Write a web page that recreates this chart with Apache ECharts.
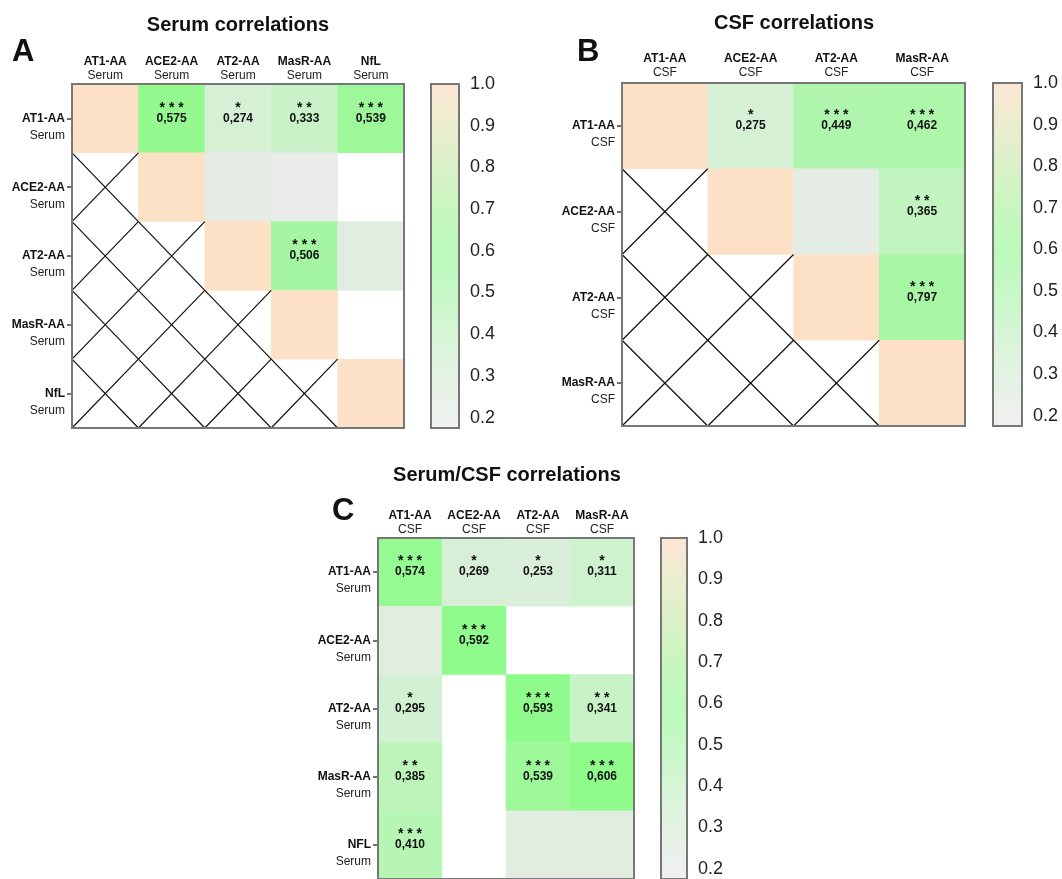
<!DOCTYPE html>
<html>
<head>
<meta charset="utf-8">
<script src="https://cdn.jsdelivr.net/npm/echarts@6/dist/echarts.min.js"></script>
<style>
html, body { margin: 0; padding: 0; background: #fff; }
#main { width: 1062px; height: 879px; }
</style>
</head>
<body>
<div id="main"></div>
<script>
// A - serum correlations
var serumCats = ['AT1-AA', 'ACE2-AA', 'AT2-AA', 'MasR-AA', 'NfL'];
var serumR = [
    [1.0, 0.575, 0.274, 0.333, 0.539],
    [null, 1.0, 0.20, 0.12, null],
    [null, null, 1.0, 0.506, 0.22],
    [null, null, null, 1.0, null],
    [null, null, null, null, 1.0]
];
var serumStars = [
    ['', '***', '*', '**', '***'],
    ['', '', '', '', ''],
    ['', '', '', '***', ''],
    ['', '', '', '', ''],
    ['', '', '', '', '']
];

// B - CSF correlations
var csfCats = ['AT1-AA', 'ACE2-AA', 'AT2-AA', 'MasR-AA'];
var csfR = [
    [1.0, 0.275, 0.449, 0.462],
    [null, 1.0, 0.20, 0.365],
    [null, null, 1.0, 0.797],
    [null, null, null, 1.0]
];
var csfStars = [
    ['', '*', '***', '***'],
    ['', '', '', '**'],
    ['', '', '', '***'],
    ['', '', '', '']
];

// C - serum (rows) vs CSF (columns)
var mixCols = ['AT1-AA', 'ACE2-AA', 'AT2-AA', 'MasR-AA'];
var mixRows = ['AT1-AA', 'ACE2-AA', 'AT2-AA', 'MasR-AA', 'NFL'];
var mixR = [
    [0.574, 0.269, 0.253, 0.311],
    [0.22, 0.592, null, null],
    [0.295, null, 0.593, 0.341],
    [0.385, null, 0.539, 0.606],
    [0.410, null, 0.22, 0.22]
];
var mixStars = [
    ['***', '*', '*', '*'],
    ['', '***', '', ''],
    ['*', '', '***', '**'],
    ['**', '', '***', '***'],
    ['***', '', '', '']
];

// colour scale
var scaleTicks = [0.2, 0.3, 0.4, 0.5, 0.6, 0.7, 0.8, 0.9, 1.0];
var cellColors = ['#ececec', '#e4ece4', '#d1f1d1', '#b9f5b6', '#a7f6a3',
    '#8dfb8a', '#98f995', '#a8f7a4', '#d4eec0', '#fde1c6'];
var barStopValues = [0.175, 0.3, 0.4, 0.5, 0.6, 0.7, 0.8, 0.9, 1.0];
var barStopColors = ['#f0f0f0', '#e3f3e3', '#d6f5d6', '#c6f8c6', '#bafaba',
    '#c8f6c0', '#dbf1c8', '#ebedd0', '#fce6d4'];

var FONT = '"Liberation Sans", Arial, Helvetica, sans-serif';
var barMin = 0.175, barMax = 1.0;

function heatData(m) {
    var out = [];
    for (var r = 0; r < m.length; r++) {
        for (var c = 0; c < m[r].length; c++) {
            if (m[r][c] !== null) out.push([c, r, m[r][c]]);
        }
    }
    return out;
}

function crossCells(n) {
    var out = [];
    for (var r = 0; r < n; r++) {
        for (var c = 0; c < r; c++) out.push([c, r]);
    }
    return out;
}

function cellLabel(stars) {
    return function (p) {
        var s = stars[p.value[1]][p.value[0]];
        if (!s) return '';
        var v = p.value[2].toFixed(3).replace('.', ',');
        return '{s|' + s.split('').join(' ') + '}\n{v|' + v + '}\n{e| }';
    };
}

function renderCross(params, api) {
    var c = api.coord([api.value(0), api.value(1)]);
    var s = api.size([1, 1]);
    var x0 = c[0] - s[0] / 2, x1 = c[0] + s[0] / 2;
    var y0 = c[1] - s[1] / 2, y1 = c[1] + s[1] / 2;
    var st = { stroke: '#111', lineWidth: 1.2 };
    return {
        type: 'group',
        children: [
            { type: 'line', shape: { x1: x0, y1: y0, x2: x1, y2: y1 }, style: st },
            { type: 'line', shape: { x1: x1, y1: y0, x2: x0, y2: y1 }, style: st }
        ]
    };
}

function heatX(grid, cats, sub, margin) {
    return {
        type: 'category', gridIndex: grid, position: 'top', data: cats,
        axisLine: { show: false },
        axisTick: { show: true, inside: true, alignWithLabel: true, length: 6, lineStyle: { color: '#555', width: 1.5 } },
        axisLabel: {
            margin: margin, interval: 0,
            formatter: function (v) { return '{b|' + v + '}\n{n|' + sub + '}'; },
            rich: {
                b: { fontFamily: FONT, fontSize: 12, fontWeight: 'bold', color: '#111', lineHeight: 14 },
                n: { fontFamily: FONT, fontSize: 12, color: '#222', lineHeight: 14 }
            }
        },
        splitLine: { show: false }
    };
}

function heatY(grid, cats, sub) {
    return {
        type: 'category', gridIndex: grid, inverse: true, data: cats,
        axisLine: { show: false },
        axisTick: { show: true, alignWithLabel: true, length: 5, lineStyle: { color: '#444', width: 1.5 } },
        axisLabel: {
            margin: 7, interval: 0,
            formatter: function (v) { return '{e| }\n{b|' + v + '}\n{n|' + sub + '}'; },
            rich: {
                e: { fontSize: 12, lineHeight: 20 },
                b: { fontFamily: FONT, fontSize: 12, fontWeight: 'bold', color: '#111', lineHeight: 14, align: 'right' },
                n: { fontFamily: FONT, fontSize: 12, color: '#222', lineHeight: 20, align: 'right' }
            }
        },
        splitLine: { show: false }
    };
}

function barX(grid) {
    return { type: 'category', gridIndex: grid, data: [''], show: false };
}

function barY(grid, right) {
    return {
        type: 'value', gridIndex: grid, min: barMin, max: barMax,
        position: right ? 'right' : 'left',
        axisLine: { show: false },
        splitLine: { show: false },
        axisTick: { show: true, inside: true, length: 5, customValues: scaleTicks, lineStyle: { color: '#555', width: 1.5 } },
        axisLabel: {
            show: right, margin: 11, customValues: scaleTicks,
            formatter: function (v) { return v.toFixed(1); },
            fontFamily: FONT, fontSize: 18, color: '#222'
        }
    };
}

function barGradient() {
    var stops = [];
    for (var i = 0; i < barStopValues.length; i++) {
        stops.push({ offset: (barStopValues[i] - barMin) / (barMax - barMin), color: barStopColors[i] });
    }
    return new echarts.graphic.LinearGradient(0, 1, 0, 0, stops);
}

function heatSeries(xi, yi, m, stars) {
    return {
        type: 'heatmap', xAxisIndex: xi, yAxisIndex: yi, data: heatData(m),
        label: {
            show: true, color: '#111', formatter: cellLabel(stars),
            rich: {
                s: { fontFamily: FONT, fontSize: 14, fontWeight: 'bold', color: '#111', lineHeight: 7 },
                v: { fontFamily: FONT, fontSize: 12, fontWeight: 'bold', color: '#111', lineHeight: 14 },
                e: { fontSize: 12, lineHeight: 7 }
            }
        },
        emphasis: { disabled: true }
    };
}

function crossSeries(xi, yi, n) {
    return { type: 'custom', xAxisIndex: xi, yAxisIndex: yi, data: crossCells(n), renderItem: renderCross, z: 5, silent: true };
}

function barSeries(xi, yi) {
    return {
        type: 'bar', xAxisIndex: xi, yAxisIndex: yi, data: [barMax], barWidth: '100%',
        itemStyle: { color: barGradient() }, silent: true
    };
}

function txt(x, y, text, size) {
    return {
        type: 'text', x: x, y: y, silent: true,
        style: { text: text, font: 'bold ' + size + 'px ' + FONT, fill: '#111', align: size > 24 ? 'left' : 'center', verticalAlign: 'middle' }
    };
}

var border = { show: true, borderColor: '#777', borderWidth: 2, z: 10, backgroundColor: 'transparent' };

var chart = echarts.init(document.getElementById('main'), null, { renderer: 'canvas' });
chart.setOption({
    animation: false,
    backgroundColor: '#fff',
    graphic: [
        txt(238, 25, 'Serum correlations', 20),
        txt(794, 23, 'CSF correlations', 20),
        txt(507, 475, 'Serum/CSF correlations', 20),
        txt(12, 52, 'A', 31),
        txt(577, 52, 'B', 31),
        txt(332, 511, 'C', 31)
    ],
    grid: [
        Object.assign({ left: 72, top: 84, width: 332, height: 344 }, border),
        Object.assign({ left: 431, top: 84, width: 28, height: 344 }, border),
        Object.assign({ left: 622, top: 83, width: 343, height: 343 }, border),
        Object.assign({ left: 993, top: 83, width: 29, height: 343 }, border),
        Object.assign({ left: 378, top: 538, width: 256, height: 345 }, border),
        Object.assign({ left: 661, top: 538, width: 26, height: 345 }, border)
    ],
    xAxis: [
        heatX(0, serumCats, 'Serum', 1),
        barX(1),
        heatX(2, csfCats, 'CSF', 3),
        barX(3),
        heatX(4, mixCols, 'CSF', 1),
        barX(5)
    ],
    yAxis: [
        heatY(0, serumCats, 'Serum'),
        barY(1, false), barY(1, true),
        heatY(2, csfCats, 'CSF'),
        barY(3, false), barY(3, true),
        heatY(4, mixRows, 'Serum'),
        barY(5, false), barY(5, true)
    ],
    visualMap: {
        type: 'continuous', show: false, min: 0.1, max: 1.0,
        seriesIndex: [0, 1, 2], dimension: 2,
        inRange: { color: cellColors }
    },
    series: [
        heatSeries(0, 0, serumR, serumStars),
        heatSeries(2, 3, csfR, csfStars),
        heatSeries(4, 6, mixR, mixStars),
        crossSeries(0, 0, serumCats.length),
        crossSeries(2, 3, csfCats.length),
        barSeries(1, 1),
        barSeries(3, 4),
        barSeries(5, 7)
    ]
});
</script>
</body>
</html>
